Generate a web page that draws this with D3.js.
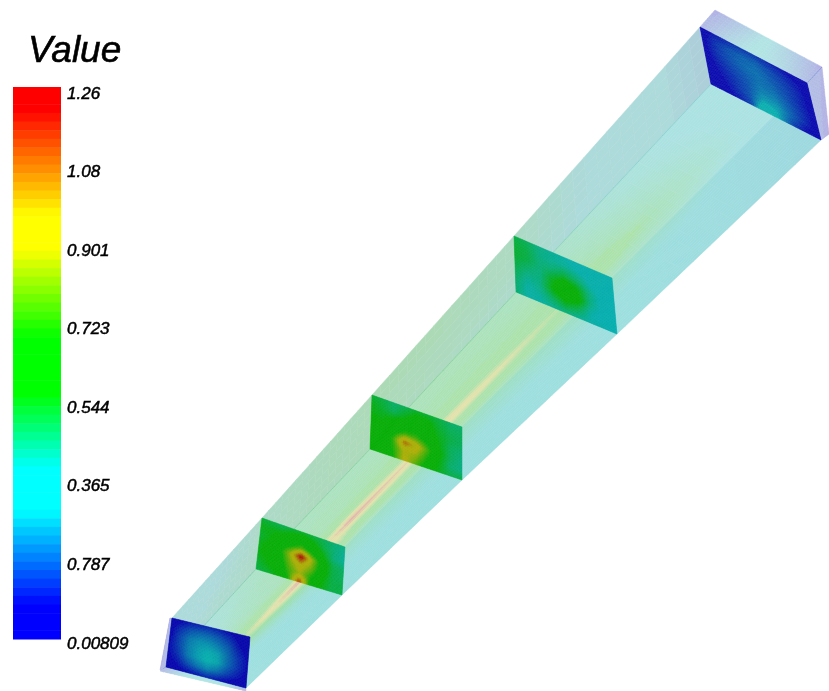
<!DOCTYPE html>
<html>
<head>
<meta charset="utf-8">
<script src="https://cdn.jsdelivr.net/npm/d3@7"></script>
<style>
  html, body { margin: 0; background: #fff; }
  svg { display: block; }
  text { font-family: "Liberation Sans", sans-serif; font-style: italic; fill: #000; }
</style>
</head>
<body>
<div id="chart"><svg></svg></div>
<script>
// legend
const tickLabels = ["1.26", "1.08", "0.901", "0.723", "0.544", "0.365", "0.787", "0.00809"];
const valueMin = 0.00809;
const valueMax = 1.26;
// colour ramp has flat stretches at each pure hue
const rampValues = [0.00809, 0.0738, 0.294, 0.391, 0.566, 0.693, 0.897, 0.974, 1.219, 1.26];
const rampColors = ["#0000ff", "#0000ff", "#00ffff", "#00ffff", "#00ff00", "#00ff00", "#ffff00", "#ffff00", "#ff0000", "#ff0000"];
const bandCount = 64;

// duct outline at the five stations (inlet .. outlet)
const stations = [0, 1, 2, 3, 4];
const topLeftX = [172, 262, 372, 514, 700];
const topLeftY = [618, 518, 395, 236, 27];
const topRightX = [250, 345, 462, 612, 807];
const topRightY = [637, 547, 427, 278, 83];
const bottomRightX = [246, 342, 462, 617, 821];
const bottomRightY = [688, 595, 480, 334, 140];
const bottomLeftX = [166, 256, 370, 516, 711];
const bottomLeftY = [667, 569, 449, 292, 84];

// cross sections, one per station
const slice0 = [
  [.04, .06, .09, .1, .11, .09, .07, .04, .02],
  [.05, .12, .17, .19, .19, .17, .13, .07, .03],
  [.06, .15, .22, .25, .25, .22, .18, .1, .05],
  [.07, .15, .23, .27, .29, .27, .2, .13, .07],
  [.07, .13, .22, .27, .3, .28, .2, .13, .07],
  [.05, .09, .16, .21, .24, .21, .15, .1, .05],
  [.03, .05, .07, .09, .11, .09, .06, .03, .02]
];
const slice1 = [
  [.52, .5, .48, .5, .52, .5, .48, .45, .44],
  [.55, .55, .56, .6, .62, .58, .5, .45, .42],
  [.52, .56, .6, .68, .78, .66, .56, .45, .42],
  [.55, .58, .66, .88, 1.24, .88, .62, .5, .47],
  [.55, .58, .64, .82, .95, .82, .62, .5, .48],
  [.52, .56, .6, .76, .88, .72, .58, .5, .5],
  [.5, .52, .56, .72, 1.15, .68, .56, .5, .5]
];
const slice2 = [
  [.52, .5, .46, .48, .52, .52, .5, .46, .46],
  [.55, .52, .48, .54, .6, .58, .52, .48, .48],
  [.56, .55, .58, .62, .64, .6, .54, .5, .48],
  [.56, .58, .62, .74, .74, .66, .56, .48, .46],
  [.58, .6, .74, 1.08, .96, .76, .58, .48, .44],
  [.58, .6, .72, .9, .86, .7, .56, .46, .44],
  [.58, .58, .7, .92, .78, .62, .54, .5, .5]
];
const slice3 = [
  [.5, .48, .44, .42, .4, .38, .38, .38, .38],
  [.52, .5, .44, .42, .42, .4, .38, .37, .37],
  [.52, .5, .45, .46, .5, .46, .4, .37, .37],
  [.5, .46, .44, .54, .62, .56, .44, .38, .37],
  [.48, .42, .44, .56, .64, .6, .44, .38, .37],
  [.46, .4, .42, .48, .54, .5, .4, .38, .38],
  [.46, .4, .4, .42, .44, .42, .4, .4, .38]
];
const slice4 = [
  [.04, .09, .11, .13, .13, .11, .09, .06, .03],
  [.06, .13, .17, .19, .19, .16, .13, .09, .05],
  [.06, .13, .17, .2, .21, .18, .15, .11, .05],
  [.05, .11, .15, .18, .21, .2, .16, .11, .05],
  [.05, .09, .13, .17, .23, .23, .18, .12, .06],
  [.04, .07, .12, .17, .28, .27, .19, .12, .05],
  [.03, .05, .09, .15, .42, .28, .15, .07, .03]
];

// walls: rows run inlet -> outlet, columns run across the wall
const floorValues = [
  [.34, .34, .35, .36, .38, .38, .4, .38, .36, .34, .32, .32, .32],
  [.42, .42, .44, .46, .5, .56, .85, .52, .42, .38, .36, .35, .34],
  [.48, .48, .5, .5, .5, .58, 1.2, .56, .44, .4, .38, .37, .36],
  [.5, .5, .52, .52, .58, 1.2, .62, .48, .44, .4, .38, .37, .36],
  [.5, .5, .52, .54, .62, 1.05, .6, .48, .44, .4, .38, .37, .36],
  [.52, .52, .54, .54, .6, .95, .58, .48, .44, .4, .38, .37, .36],
  [.5, .5, .52, .54, .58, .75, .56, .48, .44, .4, .38, .37, .36],
  [.42, .42, .44, .46, .48, .5, .48, .44, .4, .38, .37, .36, .35],
  [.36, .36, .36, .36, .36, .36, .36, .34, .32, .32, .3, .3, .3]
];
const leftWallValues = [
  [.28, .3, .32, .34, .36],
  [.38, .38, .4, .42, .42],
  [.46, .46, .46, .46, .46],
  [.5, .5, .5, .5, .5],
  [.52, .52, .52, .52, .5],
  [.52, .52, .5, .5, .48],
  [.48, .48, .48, .46, .44],
  [.36, .36, .36, .36, .36],
  [.24, .24, .24, .24, .24]
];
const rightWallValues = [
  [.28, .3, .3],
  [.3, .3, .3],
  [.3, .3, .3],
  [.3, .3, .3],
  [.3, .3, .3],
  [.3, .3, .3],
  [.3, .3, .3],
  [.26, .26, .26],
  [.2, .2, .2]
];

// end rims of the duct, outside the first and last slice
const rimX = [[172, 166, 160, 170], [166, 246, 246, 160], [700, 807, 822, 715], [807, 821, 829, 822]];
const rimY = [[618, 667, 670, 618], [667, 688, 691, 671], [27, 83, 67, 10], [83, 140, 134, 67]];
const rimValues = [
  [[.14, .14], [.1, .1]],
  [[.12, .28, .4, .3, .12], [.12, .28, .4, .3, .12]],
  [[.12, .24, .32, .26, .14], [.08, .18, .3, .2, .08]],
  [[.14, .12], [.1, .08]]
];

const W = 829, H = 691;
const svg = d3.select("#chart svg").attr("width", W).attr("height", H);

const defs = svg.append("defs");
const addBlur = (id, amount) => defs.append("filter").attr("id", id)
  .attr("filterUnits", "userSpaceOnUse")
  .attr("x", 0).attr("y", 0).attr("width", W).attr("height", H)
  .append("feGaussianBlur").attr("stdDeviation", amount);
addBlur("soft", 0.6);
addBlur("softText", 0.35);

const color = d3.scaleLinear()
  .domain(rampValues)
  .range(rampColors)
  .clamp(true);

function shaded(v, k) {
  const c = d3.rgb(color(v));
  return d3.rgb(c.r * k, c.g * k, c.b * k).formatRgb();
}

// one scale per corner line, station -> picture coordinate
const line = vals => d3.scaleLinear().domain(stations).range(vals);
const edges = {
  tl: { x: line(topLeftX), y: line(topLeftY) },
  tr: { x: line(topRightX), y: line(topRightY) },
  br: { x: line(bottomRightX), y: line(bottomRightY) },
  bl: { x: line(bottomLeftX), y: line(bottomLeftY) }
};

// smooth shading of a small value table, like the renderer does
function sample(matrix, r, c) {
  const row = r * (matrix.length - 1), col = c * (matrix[0].length - 1);
  const r0 = Math.min(Math.floor(row), matrix.length - 2), c0 = Math.min(Math.floor(col), matrix[0].length - 2);
  const fr = row - r0, fc = col - c0;
  const top = matrix[r0][c0] * (1 - fc) + matrix[r0][c0 + 1] * fc;
  const bot = matrix[r0 + 1][c0] * (1 - fc) + matrix[r0 + 1][c0 + 1] * fc;
  return top * (1 - fr) + bot * fr;
}

function drawField(parent, matrix, pointAt, nr, nc, k, opacity) {
  const cells = [];
  d3.range(nr).forEach(i => d3.range(nc).forEach(j => cells.push([i, j])));
  parent.append("g").attr("opacity", opacity)
    .selectAll("path").data(cells).join("path")
    .attr("d", ([i, j]) => d3.line()([
      pointAt(i / nr, j / nc), pointAt(i / nr, (j + 1) / nc),
      pointAt((i + 1) / nr, (j + 1) / nc), pointAt((i + 1) / nr, j / nc)
    ]) + "Z")
    .attr("fill", ([i, j]) => shaded(sample(matrix, (i + .5) / nr, (j + .5) / nc), k))
    .attr("stroke", ([i, j]) => shaded(sample(matrix, (i + .5) / nr, (j + .5) / nc), k))
    .attr("stroke-width", 0.5);
}

// wall between two corner lines, r = along the duct, c = across
function wallPoint(a, b) {
  return (r, c) => {
    const t = r * (stations.length - 1);
    return [a.x(t) * (1 - c) + b.x(t) * c, a.y(t) * (1 - c) + b.y(t) * c];
  };
}

// quad given by four corners in order 00, 01, 11, 10
function quadPoint(xs, ys) {
  const at = (v, r, c) => (v[0] * (1 - c) + v[1] * c) * (1 - r) + (v[3] * (1 - c) + v[2] * c) * r;
  return (r, c) => [at(xs, r, c), at(ys, r, c)];
}

const scene = svg.append("g").attr("filter", "url(#soft)");

rimValues.forEach((m, i) => {
  drawField(scene, m, quadPoint(rimX[i], rimY[i]), 8, 24, 0.65, 0.3);
});

drawField(scene, leftWallValues, wallPoint(edges.tl, edges.bl), 64, 6, 0.55, 0.32);
drawField(scene, floorValues, wallPoint(edges.bl, edges.br), 96, 52, 0.65, 0.33);
drawField(scene, rightWallValues, wallPoint(edges.tr, edges.br), 32, 6, 0.75, 0.08);

[slice0, slice1, slice2, slice3, slice4].forEach((m, s) => {
  const point = (r, c) => {
    const top = [edges.tl.x(s) * (1 - c) + edges.tr.x(s) * c, edges.tl.y(s) * (1 - c) + edges.tr.y(s) * c];
    const bot = [edges.bl.x(s) * (1 - c) + edges.br.x(s) * c, edges.bl.y(s) * (1 - c) + edges.br.y(s) * c];
    return [top[0] * (1 - r) + bot[0] * r, top[1] * (1 - r) + bot[1] * r];
  };
  drawField(scene, m, point, 36, 48, 0.68, 0.97);
});

// colour bar
const barY = d3.scaleBand().domain(d3.range(bandCount)).range([87, 639]);
const bandValue = d3.scaleLinear().domain([0, bandCount - 1]).range([valueMax, valueMin]);
svg.append("g").selectAll("rect").data(d3.range(bandCount)).join("rect")
  .attr("x", 13)
  .attr("y", d => barY(d))
  .attr("width", 48)
  .attr("height", barY.bandwidth() + 0.5)
  .attr("fill", d => color(bandValue(d)));

const labels = svg.append("g").attr("filter", "url(#softText)");

const tickY = d3.scalePoint().domain(tickLabels).range([92.5, 642.5]);
labels.append("g").selectAll("text").data(tickLabels).join("text")
  .attr("x", 67)
  .attr("y", d => tickY(d))
  .attr("dy", "0.36em")
  .attr("font-size", 17)
  .attr("stroke", "#000")
  .attr("stroke-width", 0.5)
  .text(d => d);

labels.append("text")
  .attr("x", 28)
  .attr("y", 62)
  .attr("font-size", 37)
  .attr("stroke", "#000")
  .attr("stroke-width", 0.6)
  .text("Value");
</script>
</body>
</html>
